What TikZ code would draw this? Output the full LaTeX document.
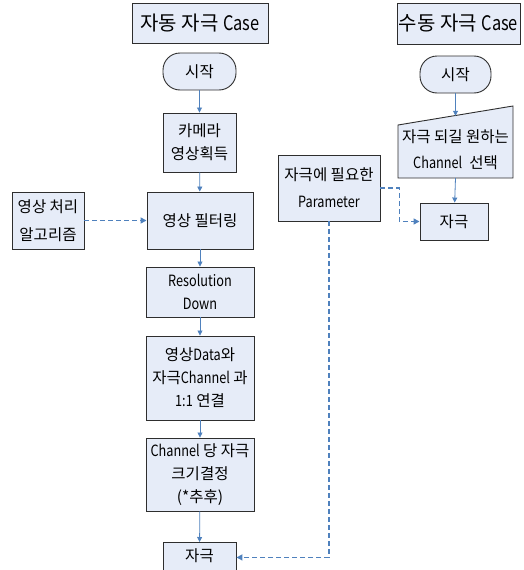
\documentclass[tikz,border=0pt]{standalone}
\usepackage{fontspec}
\setmainfont{Noto Sans CJK KR}
\newfontfamily\lat[FakeStretch=0.82]{Noto Sans CJK KR}
\usetikzlibrary{arrows.meta}
\definecolor{boxfill}{HTML}{E6ECF8}
\definecolor{boxline}{HTML}{2E2E2E}
\definecolor{flow}{HTML}{4F81BD}
\newcommand{\La}[1]{{\lat #1}}
\tikzset{
  x=1pt, y=-1pt,
  stepbox/.style={draw=boxline, line width=0.9pt, fill=boxfill, align=center,
    inner sep=1pt, font=\fontsize{15.5}{23}\selectfont},
  titlebox/.style={stepbox, font=\fontsize{20}{22}\selectfont},
  startbox/.style={stepbox, rounded corners=17pt},
  flowline/.style={draw=flow, line width=0.8pt, -{Triangle[width=5pt,length=5pt]}},
  dashline/.style={draw=flow, line width=1.4pt, dash pattern=on 5pt off 3pt,
    -{Triangle[width=6pt,length=6pt]}},
  plainnode/.style={align=center, inner sep=0pt, font=\fontsize{15.5}{26}\selectfont}
}
\begin{document}
\begin{tikzpicture}
\useasboundingbox (0,0) rectangle (523,570);
\clip (0,0) rectangle (523,570);
% titles
\node[titlebox, minimum width=136pt, minimum height=40pt] (t1) at (200,23) {자동 자극 \La{Case}};
\node[titlebox, minimum width=123pt, minimum height=41pt] (t2) at (458.5,23.5) {수동 자극 \La{Case}};
% left flow
\node[startbox, minimum width=73pt, minimum height=37pt] (s1) at (199.5,71.5) {시작};
\node[stepbox, minimum width=73pt, minimum height=59pt] (cam) at (199.5,142.5) {카메라\\영상획득};
\node[stepbox, minimum width=106pt, minimum height=57pt] (filt) at (200,220.5) {영상 필터링};
\node[stepbox, minimum width=72pt, minimum height=57pt, font=\fontsize{15.5}{28}\selectfont] (algo) at (48,220.5) {영상 처리\\알고리즘};
\node[stepbox, minimum width=108pt, minimum height=50pt] (res) at (200,292) {\La{Resolution}\\\La{Down}};
\node[stepbox, minimum width=108pt, minimum height=84pt] (data) at (200,378) {영상\La{Data}와\\자극\La{Channel} 과\\\La{1:1} 연결};
\node[stepbox, minimum width=108pt, minimum height=73pt] (chan) at (200,474.5) {\La{Channel} 당 자극\\크기결정\\(*추후)};
\node[stepbox, minimum width=73pt, minimum height=30pt, anchor=north] (stim1) at (199.5,542) {};
\node[font=\fontsize{15.5}{23}\selectfont] at (199.5,556) {자극};
% parameter
\node[stepbox, minimum width=102pt, minimum height=66pt, font=\fontsize{15.5}{27}\selectfont] (param) at (329,188) {자극에 필요한\\\La{Parameter}};
% right flow
\node[startbox, minimum width=71pt, minimum height=37pt] (s2) at (455.5,74.5) {시작};
\draw[draw=boxline, line width=0.9pt, fill=boxfill] (398,125) -- (513,106) -- (513,178) -- (398,178) -- cycle;
\node[plainnode, minimum width=115pt, minimum height=72pt] (sel) at (455.5,150) {자극 되길 원하는\\\La{Channel}\ \ 선택};
\coordinate (seltop) at (455.5,115.8);
\coordinate (selbot) at (455.5,178);
\node[stepbox, minimum width=68pt, minimum height=37pt] (stim2) at (454,221.5) {자극};
% connectors
\draw[flowline] (s1) -- (cam);
\draw[flowline] (cam) -- (filt);
\draw[flowline] (filt) -- (res);
\draw[flowline] (res) -- (data);
\draw[flowline] (data) -- (chan);
\draw[flowline] (chan) -- (stim1);
\draw[dashline] (algo) -- (filt);
\draw[dashline] (param.south) |- (stim1.east);
\draw[dashline] (param.east) -- ++(19,0) |- (stim2.west);
\draw[flowline] (s2) -- (seltop);
\draw[flowline] (selbot) -- (stim2);
\end{tikzpicture}
\end{document}
